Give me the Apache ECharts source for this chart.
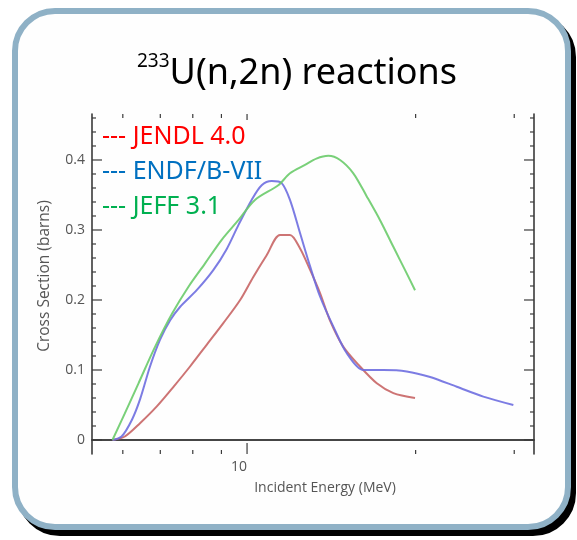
<!DOCTYPE html>
<html>
<head>
<meta charset="utf-8">
<script src="https://cdn.jsdelivr.net/npm/echarts@6/dist/echarts.min.js"></script>
<style>
  html, body { margin: 0; padding: 0; background: #ffffff; }
  #chart { width: 577px; height: 540px; }
</style>
</head>
<body>
<div id="chart"></div>
<script>
// incident energy (MeV) / cross section (barns)
var jendlEnergy = [5.75, 6.05, 6.44, 6.9, 7.39, 7.91, 8.47, 9.07, 9.72, 10.26, 10.84, 11.45, 11.93, 12.43, 12.96, 13.5, 14.06, 14.86, 15.91, 17.05, 18.25, 19.95];
var jendlXs = [0, 0.005, 0.024, 0.048, 0.076, 0.105, 0.136, 0.167, 0.2, 0.233, 0.264, 0.293, 0.293, 0.274, 0.243, 0.21, 0.171, 0.133, 0.105, 0.081, 0.067, 0.06];

var endfEnergy = [5.75, 5.97, 6.23, 6.44, 6.71, 6.99, 7.29, 7.59, 8.13, 8.71, 9.2, 9.65, 10.19, 10.62, 11.07, 11.53, 11.93, 12.43, 12.96, 13.5, 14.26, 15.07, 16.13, 17.52, 19.28, 21.23, 23.69, 26.42, 29.89];
var endfXs = [0, 0.005, 0.029, 0.058, 0.105, 0.143, 0.171, 0.19, 0.214, 0.243, 0.273, 0.307, 0.343, 0.364, 0.37, 0.367, 0.343, 0.296, 0.248, 0.205, 0.162, 0.124, 0.1, 0.1, 0.098, 0.09, 0.076, 0.062, 0.05];

var jeffEnergy = [5.75, 6.05, 6.4, 6.85, 7.34, 7.86, 8.41, 9.01, 9.65, 10.33, 11.37, 11.93, 12.69, 13.3, 13.97, 14.66, 15.48, 16.36, 17.28, 18.25, 19.28, 19.95];
var jeffXs = [0, 0.038, 0.081, 0.133, 0.18, 0.219, 0.252, 0.286, 0.314, 0.343, 0.364, 0.381, 0.393, 0.402, 0.406, 0.4, 0.381, 0.348, 0.314, 0.276, 0.238, 0.214];

var seriesNames = ["JENDL 4.0", "ENDF/B-VII", "JEFF 3.1"];

var xMajorTicks = [10];
var xMinorTicks = [6, 7, 8, 9, 20, 30];
var yMajorTicks = [0, 0.1, 0.2, 0.3, 0.4];
var yMinorTicks = [0.02, 0.04, 0.06, 0.08, 0.12, 0.14, 0.16, 0.18, 0.22, 0.24, 0.26, 0.28, 0.32, 0.34, 0.36, 0.38, 0.42, 0.44, 0.46];

var X_MIN = 5.286, X_MAX = 32.54;
var Y_MIN = -0.02, Y_MAX = 0.4657;

function pairs(xs, ys) {
  return xs.map(function (x, i) {
    return [x, ys[i]];
  });
}

var axisColor = "#3a3a3a";
var tickStyle = { stroke: axisColor, lineWidth: 1.2 };
var labelFont = { color: "#555", fontSize: 14, fontFamily: "Open Sans" };

// inward ticks on both sides of the frame, placed through the axes' own scales
function tickSeries(values, isX, len, lenOther) {
  return {
    type: "custom",
    silent: true,
    clip: false,
    z: 3,
    data: values.map(function (v) {
      return isX ? [v, Y_MIN] : [X_MIN, v];
    }),
    renderItem: function (params, api) {
      var a, b;
      if (isX) {
        a = api.coord([api.value(0), Y_MIN]);
        b = api.coord([api.value(0), Y_MAX]);
        return {
          type: "group",
          children: [
            { type: "line", shape: { x1: a[0], y1: a[1], x2: a[0], y2: a[1] - len }, style: tickStyle },
            { type: "line", shape: { x1: b[0], y1: b[1], x2: b[0], y2: b[1] + lenOther }, style: tickStyle },
          ],
        };
      }
      a = api.coord([X_MIN, api.value(1)]);
      b = api.coord([X_MAX, api.value(1)]);
      return {
        type: "group",
        children: [
          { type: "line", shape: { x1: a[0], y1: a[1], x2: a[0] + len, y2: a[1] }, style: tickStyle },
          { type: "line", shape: { x1: b[0], y1: b[1], x2: b[0] - lenOther, y2: b[1] }, style: tickStyle },
        ],
      };
    },
  };
}

var myChart = echarts.init(document.getElementById("chart"), null, { renderer: "canvas" });

var option = {
  animation: false,
  backgroundColor: "#ffffff",
  graphic: [
    {
      type: "rect",
      z: -20,
      silent: true,
      shape: { x: 20, y: 17, width: 553, height: 516, r: 40 },
      style: { fill: "#000", stroke: "#000", lineWidth: 6 },
    },
    {
      type: "rect",
      z: -10,
      silent: true,
      shape: { x: 15, y: 11, width: 553, height: 516, r: 40 },
      style: { fill: "#fefefe", stroke: "#8fb1c6", lineWidth: 6 },
    },
  ],
  title: {
    text: "{sup|233}{main|U(n,2n) reactions}",
    left: 137,
    top: 52,
    padding: 0,
    textStyle: {
      fontWeight: "normal",
      rich: {
        sup: { fontSize: 19, fontFamily: "Noto Sans", fontWeight: "normal", color: "#000", verticalAlign: "top", lineHeight: 26 },
        main: { fontSize: 36, fontFamily: "Noto Sans", fontWeight: "normal", color: "#000", lineHeight: 44 },
      },
    },
  },
  legend: {
    orient: "vertical",
    left: 97,
    top: 123,
    padding: 0,
    icon: "none",
    itemWidth: 0,
    itemGap: 7,
    selectedMode: false,
    formatter: "--- {name}",
    textStyle: { fontSize: 25, fontFamily: "Noto Sans", lineHeight: 28 },
    data: [
      { name: seriesNames[0], textStyle: { color: "#ff0000" } },
      { name: seriesNames[1], textStyle: { color: "#0070c0" } },
      { name: seriesNames[2], textStyle: { color: "#00b050" } },
    ],
  },
  grid: { left: 92, right: 43, top: 114, bottom: 86 },
  xAxis: [
    {
      type: "log",
      position: "bottom",
      min: X_MIN,
      max: X_MAX,
      axisLine: { show: true, lineStyle: { color: axisColor, width: 1.6 } },
      axisTick: { show: false },
      axisLabel: Object.assign({ show: true, customValues: xMajorTicks, margin: 6, padding: [0, 16, 0, 0] }, labelFont),
      splitLine: { show: false },
      name: "Incident Energy (MeV)",
      nameLocation: "middle",
      nameGap: 27,
      nameTextStyle: Object.assign({ padding: [0, 0, 0, 24] }, labelFont),
    },
    {
      type: "log",
      position: "top",
      min: X_MIN,
      max: X_MAX,
      axisLine: { show: true, lineStyle: { color: axisColor, width: 1.6 } },
      axisTick: { show: false },
      axisLabel: { show: false },
      splitLine: { show: false },
    },
  ],
  yAxis: [
    {
      type: "value",
      position: "left",
      min: Y_MIN,
      max: Y_MAX,
      axisLine: { show: true, lineStyle: { color: axisColor, width: 1.6 } },
      axisTick: { show: false },
      axisLabel: Object.assign({ show: true, customValues: yMajorTicks, margin: 7 }, labelFont),
      splitLine: { show: false },
      name: "Cross Section (barns)",
      nameLocation: "middle",
      nameRotate: 90,
      nameGap: 39,
      nameTextStyle: Object.assign({}, labelFont, { fontSize: 15.5, padding: [0, 0, 0, 16] }),
    },
    {
      type: "value",
      position: "right",
      min: Y_MIN,
      max: Y_MAX,
      axisLine: { show: true, lineStyle: { color: axisColor, width: 1.6 } },
      axisTick: { show: false },
      axisLabel: { show: false },
      splitLine: { show: false },
    },
  ],
  series: [
    {
      name: seriesNames[0],
      type: "line",
      color: "#c86565",
      showSymbol: false,
      smooth: 0.3,
      lineStyle: { width: 2, opacity: 0.9 },
      data: pairs(jendlEnergy, jendlXs),
    },
    {
      name: seriesNames[1],
      type: "line",
      color: "#6e6ee0",
      showSymbol: false,
      smooth: 0.3,
      lineStyle: { width: 2, opacity: 0.9 },
      data: pairs(endfEnergy, endfXs),
    },
    {
      name: seriesNames[2],
      type: "line",
      color: "#6acb6a",
      showSymbol: false,
      smooth: 0.3,
      lineStyle: { width: 2, opacity: 0.9 },
      data: pairs(jeffEnergy, jeffXs),
    },
    tickSeries(xMajorTicks, true, 11, 6),
    tickSeries(xMinorTicks, true, 4, 4),
    tickSeries(yMajorTicks, false, 10, 10),
    tickSeries(yMinorTicks, false, 4, 4),
  ],
};

myChart.setOption(option);
</script>
</body>
</html>
